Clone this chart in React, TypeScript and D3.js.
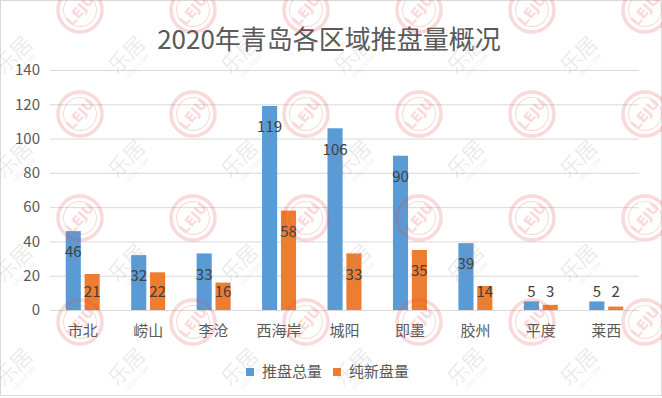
import * as d3 from 'd3'
import { useEffect, useRef } from 'react'

const categories = ['市北', '崂山', '李沧', '西海岸', '城阳', '即墨', '胶州', '平度', '莱西']
const seriesNames = ['推盘总量', '纯新盘量']
const totalValues = [46, 32, 33, 119, 106, 90, 39, 5, 5]
const newValues = [21, 22, 16, 58, 33, 35, 14, 3, 2]
const yTicks = [0, 20, 40, 60, 80, 100, 120, 140]
const colors = ['#5B9BD5', '#ED7D31']

const W = 662
const H = 398
const FONT = '"Noto Sans CJK SC", "Noto Sans", sans-serif'

export default function App() {
    const svgRef = useRef<SVGSVGElement>(null)

    useEffect(() => {
        const svg = d3.select(svgRef.current)
        svg.selectAll('*').remove()

        const left = 50, right = 639, top = 70, bottom = 310

        svg.append('rect')
            .attr('x', 0.5).attr('y', 0.5)
            .attr('width', W - 1).attr('height', H - 3)
            .attr('fill', '#fff')
            .attr('stroke', '#d9d9d9')

        svg.append('text')
            .attr('x', 329).attr('y', 49)
            .attr('text-anchor', 'middle')
            .style('font-family', FONT)
            .style('font-size', '26px')
            .attr('fill', '#595959')
            .text('2020年青岛各区域推盘量概况')

        const y = d3.scaleLinear().domain([0, 140]).range([bottom, top])
        const x0 = d3.scaleBand().domain(categories).range([left, right])
        const x1 = d3.scaleBand().domain(seriesNames).range([0, 34]).paddingInner(0.2)

        // gridlines
        svg.append('g')
            .selectAll('line')
            .data(yTicks)
            .enter().append('line')
            .attr('x1', left).attr('x2', right)
            .attr('y1', d => y(d) + 0.5).attr('y2', d => y(d) + 0.5)
            .attr('stroke', '#d9d9d9')
            .attr('stroke-width', 1)

        svg.append('g')
            .selectAll('text')
            .data(yTicks)
            .enter().append('text')
            .attr('x', 40)
            .attr('y', d => y(d))
            .attr('dy', '0.35em')
            .attr('text-anchor', 'end')
            .style('font-family', FONT)
            .style('font-size', '15px')
            .attr('fill', '#595959')
            .text(d => d)

        const data = [totalValues, newValues]
        seriesNames.forEach((s, si) => {
            const g = svg.append('g')
            const rows = categories.map((c, i) => ({ c, v: data[si][i] }))
            g.selectAll('rect')
                .data(rows)
                .enter().append('rect')
                .attr('x', d => (x0(d.c) as number) + x0.bandwidth() / 2 - 17 + (x1(s) as number))
                .attr('y', d => y(d.v))
                .attr('width', x1.bandwidth())
                .attr('height', d => bottom - y(d.v))
                .attr('fill', colors[si])
            g.selectAll('text')
                .data(rows)
                .enter().append('text')
                .attr('x', d => (x0(d.c) as number) + x0.bandwidth() / 2 - 17 + (x1(s) as number) + x1.bandwidth() / 2)
                .attr('y', d => Math.min(y(d.v) + 21, 292))
                .attr('dy', '0.35em')
                .attr('text-anchor', 'middle')
                .style('font-family', FONT)
                .style('font-size', '15px')
                .attr('fill', '#404040')
                .text(d => d.v)
        })

        svg.append('g')
            .selectAll('text')
            .data(categories)
            .enter().append('text')
            .attr('x', d => (x0(d) as number) + x0.bandwidth() / 2)
            .attr('y', 331)
            .attr('dy', '0.35em')
            .attr('text-anchor', 'middle')
            .style('font-family', FONT)
            .style('font-size', '15px')
            .attr('fill', '#595959')
            .text(d => d)

        // legend
        const lx = [246, 333]
        seriesNames.forEach((s, i) => {
            svg.append('rect')
                .attr('x', lx[i]).attr('y', 368)
                .attr('width', 8).attr('height', 8)
                .attr('fill', colors[i])
            svg.append('text')
                .attr('x', lx[i] + 16).attr('y', 372)
                .attr('dy', '0.35em')
                .style('font-family', FONT)
                .style('font-size', '15px')
                .attr('fill', '#595959')
                .text(s)
        })

        // watermark, tiled as a pattern over the whole picture
        const pat = svg.append('defs').append('pattern')
            .attr('id', 'wm')
            .attr('patternUnits', 'userSpaceOnUse')
            .attr('x', 52).attr('y', -16)
            .attr('width', 113).attr('height', 104)
        const logo = pat.append('g')
            .attr('transform', 'translate(28,26) rotate(-50)')
            .attr('opacity', 0.2)
        logo.append('circle').attr('r', 22)
            .attr('fill', 'none').attr('stroke', '#e0403f').attr('stroke-width', 3.5)
        logo.append('circle').attr('r', 16.5)
            .attr('fill', 'none').attr('stroke', '#e0403f').attr('stroke-width', 1)
        logo.append('text')
            .attr('text-anchor', 'middle').attr('dy', '0.36em')
            .style('font-family', '"DejaVu Sans", sans-serif')
            .style('font-size', '14px').style('font-weight', 'bold')
            .attr('fill', '#e0403f')
            .text('LEJU')
        const mark = pat.append('g')
            .attr('transform', 'translate(80,76) rotate(-45)')
            .attr('opacity', 0.16)
        mark.append('text')
            .attr('text-anchor', 'middle')
            .style('font-family', FONT)
            .style('font-size', '21px')
            .attr('fill', '#808080')
            .text('乐居')
        mark.append('text')
            .attr('y', 10)
            .attr('text-anchor', 'middle')
            .style('font-family', '"DejaVu Sans", sans-serif')
            .style('font-size', '6px')
            .attr('fill', '#808080')
            .text('LEJU.COM')
        svg.append('rect')
            .attr('width', W).attr('height', H)
            .attr('fill', 'url(#wm)')
            .attr('pointer-events', 'none')
    }, [])

    return (
        <div style={{ position: 'fixed', left: 0, top: 0 }}>
            <svg ref={svgRef} width={W} height={H} style={{ display: 'block' }} />
        </div>
    )
}
